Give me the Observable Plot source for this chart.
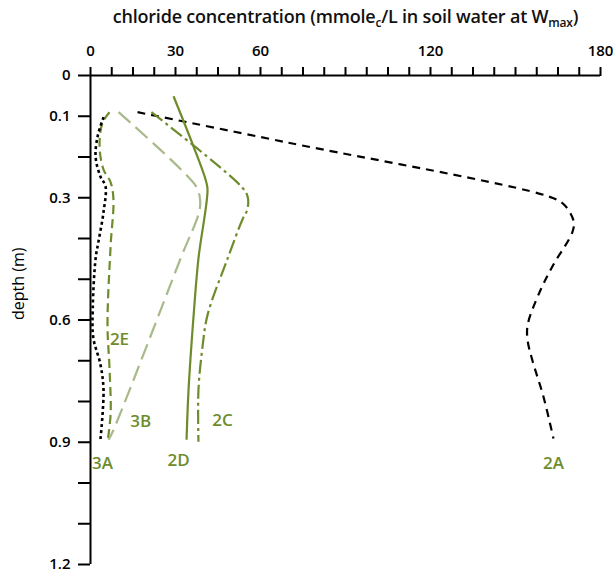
<!DOCTYPE html>
<html><head><meta charset="utf-8">
<script src="https://cdn.jsdelivr.net/npm/d3@7"></script>
<script src="https://cdn.jsdelivr.net/npm/@observablehq/plot@0.6"></script>
<style>
body{margin:0;background:#fff;}
#wrap{position:relative;width:613px;height:574px;}
#title{position:absolute;left:0;width:613px;top:4px;text-align:center;padding-left:78px;box-sizing:border-box;
 font-family:"Open Sans",sans-serif;font-size:18px;font-weight:600;color:#111;white-space:nowrap;letter-spacing:-0.2px;}
#title sub{font-size:12px;vertical-align:-4px;line-height:0;}
</style></head>
<body><div id="wrap"><div id="title">chloride concentration (mmole<sub>c</sub>/L in soil water at W<sub>max</sub>)</div></div>
<script>
// Series names
const names = ["2A", "2C", "2D", "2E", "3A", "3B"];
// chloride concentration (mmolec/L) and depth (m) per series
const conc2A  = [16.6, 69.9, 161.3, 167.0, 170.5, 170.1, 163.4, 158.8, 154.3, 154.3, 156.0, 159.9, 163.4];
const depth2A = [0.09, 0.165, 0.296, 0.316, 0.357, 0.384, 0.464, 0.527, 0.612, 0.651, 0.70, 0.789, 0.891];
const conc2C  = [21.5, 52.9, 55.4, 55.4, 53.7, 48.4, 41.3, 39.5, 38.1, 38.1];
const depth2C = [0.09, 0.27, 0.296, 0.328, 0.352, 0.449, 0.588, 0.668, 0.772, 0.899];
const conc2D  = [29.3, 36.4, 40.6, 41.3, 38.1, 36.4, 34.6, 33.9];
const depth2D = [0.051, 0.175, 0.255, 0.28, 0.449, 0.588, 0.772, 0.894];
const conc2E  = [6.7, 4.2, 3.2, 4.6, 7.1, 8.1, 7.1, 6.0, 6.7, 7.1, 6.0];
const depth2E = [0.09, 0.117, 0.175, 0.231, 0.262, 0.304, 0.418, 0.612, 0.717, 0.83, 0.899];
const conc3A  = [4.6, 2.5, 1.8, 3.5, 5.3, 4.6, 2.8, 1.8, 0.8, 1.0, 3.5, 4.6, 3.5];
const depth3A = [0.102, 0.15, 0.2, 0.248, 0.272, 0.335, 0.408, 0.449, 0.571, 0.644, 0.709, 0.772, 0.894];
const conc3B  = [9.9, 37.1, 38.5, 38.5, 31.8, 8.1, 6.4];
const depth3B = [0.09, 0.27, 0.296, 0.33, 0.449, 0.87, 0.894];
// Axis ticks
const concTicks = d3.range(0, 25).map(i => i * 7.5);
const concLabels = [0, 30, 60, 120, 180];
const depthTicks = d3.range(0, 13).map(i => i / 10);
const depthLabels = [0, 1, 3, 6, 9, 12]; // in tenths
const yTitle = "depth (m)";

const seriesData = {
  "2A": [conc2A, depth2A], "2C": [conc2C, depth2C], "2D": [conc2D, depth2D],
  "2E": [conc2E, depth2E], "3A": [conc3A, depth3A], "3B": [conc3B, depth3B]
};
const green = "#6e8c2b", light = "#a9ba8a";
const styles = {
  "2A": {stroke: "#000", dash: "8,6", width: 2.2, dx: 0, dy: 25},
  "2C": {stroke: green, dash: "14,4,3,4", width: 2.2, dx: 24, dy: -21},
  "2D": {stroke: green, dash: null, width: 2.2, dx: -8, dy: 21},
  "2E": {stroke: green, dash: "9,5", width: 2.2, dx: 12, dy: -102},
  "3A": {stroke: "#000", dash: "3,3", width: 2.6, dx: 2, dy: 24},
  "3B": {stroke: light, dash: "16,7", width: 2.2, dx: 32, dy: -18}
};

const lineMarks = [];
const labelMarks = [];
for (const n of names) {
  const [c, d] = seriesData[n];
  const rows = c.map((v, i) => ({conc: v, depth: d[i]}));
  const s = styles[n];
  lineMarks.push(Plot.line(rows, {x: "conc", y: "depth", stroke: s.stroke, strokeWidth: s.width,
    strokeDasharray: s.dash, curve: "catmull-rom", strokeLinecap: "butt"}));
  labelMarks.push(Plot.text([rows[rows.length - 1]], {x: "conc", y: "depth", text: () => n,
    dx: s.dx, dy: s.dy, fill: green, fontSize: 17, fontWeight: 600}));
}

const chart = Plot.plot({
  width: 613, height: 574,
  marginLeft: 90, marginRight: 13, marginTop: 75, marginBottom: 10,
  style: {fontFamily: "Open Sans, sans-serif", fontSize: "15px", color: "#000", background: "#fff"},
  x: {domain: [0, 180]},
  y: {domain: [0, 1.2], reverse: true},
  marks: [
    Plot.axisX({anchor: "top", ticks: concTicks, tickSize: 9, tickPadding: 11, strokeWidth: 2,
      tickFormat: d => concLabels.includes(d) ? String(d) : "", label: null, fontWeight: 600}),
    Plot.axisY({anchor: "left", ticks: depthTicks, tickSize: 12, tickPadding: 8, strokeWidth: 2,
      tickFormat: d => depthLabels.includes(Math.round(d * 10)) ? (d === 0 ? "0" : d.toFixed(1)) : "",
      label: null, fontWeight: 600}),
    Plot.text([yTitle], {frameAnchor: "left", text: d => d, rotate: -90, dx: -72, fontSize: 16}),
    Plot.ruleY([0], {strokeWidth: 2}),
    Plot.ruleX([0], {strokeWidth: 2}),
    ...lineMarks,
    ...labelMarks
  ]
});
document.getElementById("wrap").appendChild(chart);
chart.style.position = "absolute"; chart.style.left = "0"; chart.style.top = "0";
document.getElementById("wrap").appendChild(document.getElementById("title"));
</script>
</body></html>
